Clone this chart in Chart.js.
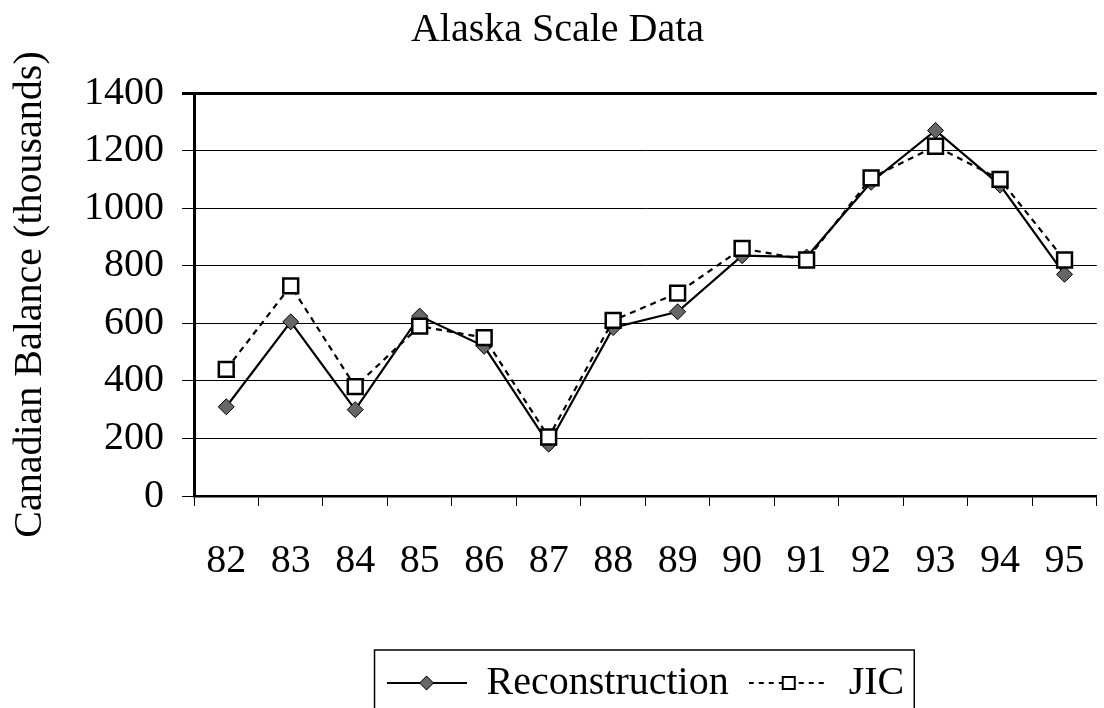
<!DOCTYPE html>
<html>
<head>
<meta charset="utf-8">
<title>Alaska Scale Data</title>
<script src="https://cdn.jsdelivr.net/npm/chart.js@4.4.1/dist/chart.umd.min.js"></script>
<style>
    html, body { margin: 0; padding: 0; background: #fff; overflow: hidden; }
</style>
</head>
<body>
<canvas id="myLineChart" width="1116" height="720"></canvas>
<script>
// -------------------------------------------------------------------------- Data

const years = ['82', '83', '84', '85', '86', '87', '88', '89', '90', '91', '92', '93', '94', '95']
const reconstruction = [310, 605, 300, 625, 520, 180, 585, 640, 835, 830, 1090, 1270, 1080, 770]
const jic = [440, 730, 380, 590, 550, 205, 610, 705, 860, 820, 1105, 1215, 1100, 820]
const yTicks = [0, 200, 400, 600, 800, 1000, 1200, 1400]

let black = '#000000'
let grey = '#666666'
let serif = 'Liberation Serif'

Chart.defaults.font.family = serif
Chart.defaults.font.size = 40
Chart.defaults.color = black

// -------------------------------------------------------------------------- Legend symbols

function legendSymbol(dashed) {
    const c = document.createElement('canvas')
    c.width = 80
    c.height = 24
    const ctx = c.getContext('2d')
    ctx.strokeStyle = black
    ctx.lineWidth = 2
    if (dashed) ctx.setLineDash([5, 5])
    ctx.beginPath()
    ctx.moveTo(0, 12)
    ctx.lineTo(80, 12)
    ctx.stroke()
    ctx.setLineDash([])
    if (dashed) {
        ctx.fillStyle = '#fff'
        ctx.fillRect(34, 6, 12, 12)
        ctx.lineWidth = 2
        ctx.strokeRect(34, 6, 12, 12)
    } else {
        ctx.fillStyle = grey
        ctx.lineWidth = 1
        ctx.beginPath()
        ctx.moveTo(40, 5)
        ctx.lineTo(47, 12)
        ctx.lineTo(40, 19)
        ctx.lineTo(33, 12)
        ctx.closePath()
        ctx.fill()
        ctx.stroke()
    }
    return c
}

const symbols = [legendSymbol(false), legendSymbol(true)]

// box around the legend
const legendBorder = {
    id: 'legendBorder',
    afterDraw(chart) {
        const boxes = chart.legend.legendHitBoxes
        if (!boxes || !boxes.length) return
        const left = Math.min(...boxes.map(b => b.left)) - 12
        const right = Math.max(...boxes.map(b => b.left + b.width)) + 10
        const top = chart.legend.top + 7
        const ctx = chart.ctx
        ctx.save()
        ctx.strokeStyle = black
        ctx.lineWidth = 1.5
        ctx.strokeRect(left, top, right - left, chart.height - top + 20)
        ctx.restore()
    }
}

// -------------------------------------------------------------------------- Line Chart Config

const dataLineChart = {
    labels: years,
    datasets: [{
        label: 'Reconstruction',
        data: reconstruction,
        borderColor: black,
        borderWidth: 2.2,
        pointStyle: 'rectRot',
        pointRadius: 8,
        pointBackgroundColor: grey,
        pointBorderColor: black,
        pointBorderWidth: 1,
        tension: 0,
        order: 2
    }, {
        label: 'JIC',
        data: jic,
        borderColor: black,
        borderWidth: 2.2,
        borderDash: [6, 5],
        pointStyle: 'rect',
        pointRadius: 10.5,
        pointBackgroundColor: '#ffffff',
        pointBorderColor: black,
        pointBorderWidth: 2.5,
        tension: 0,
        order: 1
    }]
}

const configLineChart = {
    type: 'line',
    data: dataLineChart,
    plugins: [legendBorder],
    options: {
        responsive: false,
        animation: false,
        layout: {
            padding: { left: 0, right: 1, top: 0, bottom: 7 }
        },
        plugins: {
            title: {
                display: true,
                text: 'Alaska Scale Data',
                font: { size: 40, weight: 'normal' },
                padding: { top: 6, bottom: 39 }
            },
            legend: {
                position: 'bottom',
                fullSize: false,
                labels: {
                    usePointStyle: true,
                    pointStyleWidth: 80,
                    padding: 20,
                    font: { size: 40 },
                    generateLabels(chart) {
                        return chart.data.datasets.map((ds, i) => ({
                            text: ds.label,
                            pointStyle: symbols[i],
                            datasetIndex: i,
                            hidden: false,
                            fillStyle: '#fff',
                            strokeStyle: black,
                            lineWidth: 0
                        }))
                    }
                }
            },
            tooltip: { enabled: false }
        },
        scales: {
            x: {
                offset: true,
                grid: {
                    display: true,
                    offset: true,
                    drawOnChartArea: false,
                    drawTicks: true,
                    tickLength: 10,
                    color: black,
                    lineWidth: 1
                },
                border: { color: black, width: 2.5 },
                ticks: {
                    padding: 31,
                    maxRotation: 0,
                    autoSkip: false,
                    font: { size: 40 }
                },
                afterFit(scale) {
                    scale.height += 27
                }
            },
            y: {
                min: 0,
                max: 1400,
                afterBuildTicks(scale) {
                    scale.ticks = yTicks.map(v => ({ value: v }))
                },
                grid: {
                    color: black,
                    lineWidth: ctx => (ctx.tick && ctx.tick.value === 1400 ? 3 : 1),
                    tickLength: 12
                },
                border: { color: black, width: 3 },
                ticks: {
                    padding: 18,
                    font: { size: 40 },
                    callback: v => String(v)
                },
                title: {
                    display: true,
                    text: 'Canadian Balance (thousands)',
                    font: { size: 40 },
                    padding: { top: 6, bottom: 12 }
                }
            }
        }
    }
}

// -------------------------------------------------------------------------- Render Chart
let myLineChart = new Chart(
    document.getElementById('myLineChart'),
    configLineChart
)
</script>
</body>
</html>
